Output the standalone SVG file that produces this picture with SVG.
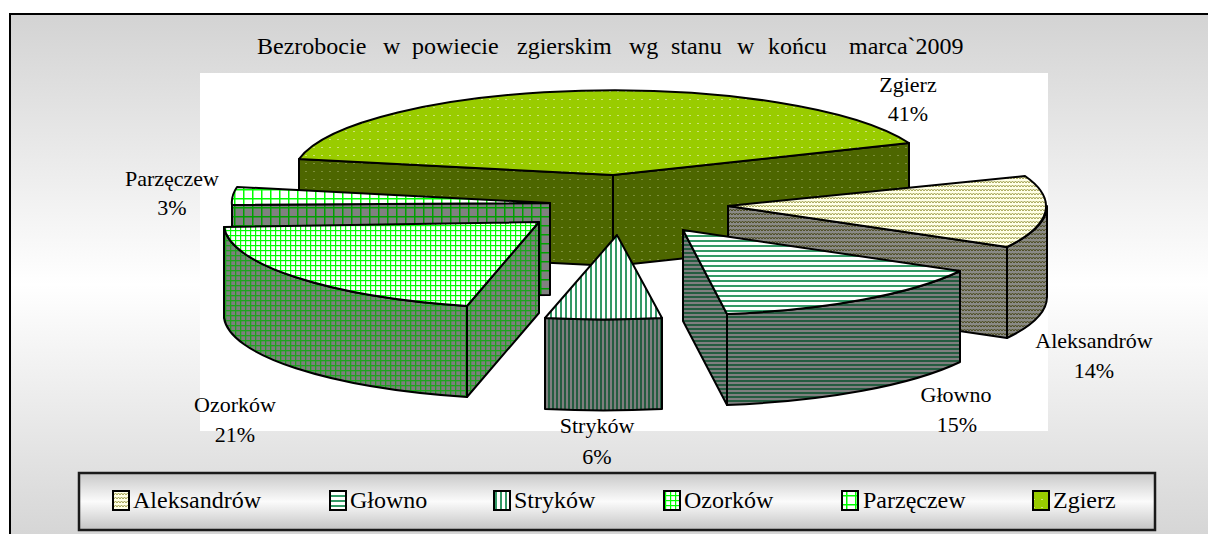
<svg xmlns="http://www.w3.org/2000/svg" width="1208" height="534" viewBox="0 0 1208 534" font-family="'Liberation Serif', 'Times New Roman', 'DejaVu Serif', serif">
<defs>
<linearGradient id="bg" x1="0" y1="14" x2="0" y2="534" gradientUnits="userSpaceOnUse">
<stop offset="0" stop-color="#d3d3d3"/><stop offset="0.52" stop-color="#ffffff"/><stop offset="1" stop-color="#d6d6d6"/>
</linearGradient>
<linearGradient id="lg" x1="0" y1="0" x2="0" y2="1">
<stop offset="0" stop-color="#c8c8c8"/><stop offset="0.5" stop-color="#fbfbfb"/><stop offset="1" stop-color="#c4c4c4"/>
</linearGradient>
<pattern id="zgT" width="8" height="8" patternUnits="userSpaceOnUse"><rect width="8" height="8" fill="#99cc00"/><rect x="1" y="3" width="2" height="1" fill="#cce27a"/></pattern>
<pattern id="zgS" width="8" height="8" patternUnits="userSpaceOnUse"><rect width="8" height="8" fill="#4d6600"/><rect x="1" y="3" width="2" height="1" fill="#7d8f3c"/></pattern>
<pattern id="alT" width="6" height="4" patternUnits="userSpaceOnUse"><rect width="6" height="4" fill="#ffffe6"/><polyline points="0,3 1.5,1 3,3 4.5,1 6,3" fill="none" stroke="#a3a352" stroke-width="1"/></pattern>
<pattern id="alS" width="6" height="4" patternUnits="userSpaceOnUse"><rect width="6" height="4" fill="#8a8a86"/><polyline points="0,3 1.5,1 3,3 4.5,1 6,3" fill="none" stroke="#4a4a1e" stroke-width="1"/></pattern>
<pattern id="glT" width="5" height="5" patternUnits="userSpaceOnUse"><rect width="5" height="5" fill="#ffffff"/><rect y="0" width="5" height="2" fill="#339966"/></pattern>
<pattern id="glS" width="4" height="4" patternUnits="userSpaceOnUse"><rect width="4" height="4" fill="#7f7f7f"/><rect y="0" width="4" height="2" fill="#255c40"/></pattern>
<pattern id="stT" width="5" height="5" patternUnits="userSpaceOnUse"><rect width="5" height="5" fill="#ffffff"/><rect x="0" width="2" height="5" fill="#339966"/></pattern>
<pattern id="stS" width="4" height="4" patternUnits="userSpaceOnUse"><rect width="4" height="4" fill="#7f7f7f"/><rect x="0" width="2" height="4" fill="#255c40"/></pattern>
<pattern id="ozT" width="5" height="5" patternUnits="userSpaceOnUse"><rect width="5" height="5" fill="#ffffff"/><rect width="5" height="1.2" fill="#00ff00"/><rect width="1.2" height="5" fill="#00ff00"/></pattern>
<pattern id="ozS" width="5" height="5" patternUnits="userSpaceOnUse"><rect width="5" height="5" fill="#7f7f7f"/><rect width="5" height="1.3" fill="#1fa31f"/><rect width="1.3" height="5" fill="#1fa31f"/></pattern>
<pattern id="paT" width="9" height="9" patternUnits="userSpaceOnUse"><rect width="9" height="9" fill="#ffffff"/><rect width="9" height="1.5" fill="#00ff00"/><rect width="1.5" height="9" fill="#00ff00"/></pattern>
<pattern id="paS" width="9" height="9" patternUnits="userSpaceOnUse"><rect width="9" height="9" fill="#808080"/><rect width="9" height="1.5" fill="#00a000"/><rect width="1.5" height="9" fill="#00a000"/></pattern>
<style>
.f{stroke:#000;stroke-width:2;stroke-linejoin:round}
text{font-family:'Liberation Serif','Times New Roman','DejaVu Serif',serif;fill:#000}
.lab{font-size:22px;text-anchor:middle}
.leg{font-size:24px}
.ic{stroke:#000;stroke-width:2}
</style>
</defs>
<rect x="10" y="14" width="1210" height="530" fill="url(#bg)" stroke="#000" stroke-width="2"/>
<text font-size="24" y="54"><tspan x="257">Bezrobocie</tspan><tspan x="383">w</tspan><tspan x="412">powiecie</tspan><tspan x="517">zgierskim</tspan><tspan x="629">wg</tspan><tspan x="671">stanu</tspan><tspan x="737">w</tspan><tspan x="768">końcu</tspan><tspan x="849">marca`2009</tspan></text>
<rect x="200" y="73" width="848" height="358" fill="#ffffff"/>
<g id="zgierz">
<path class="f" fill="url(#zgS)" d="M299,159 L613,175 L613,266 L299,250 Z"/>
<path class="f" fill="url(#zgS)" d="M613,175 L909,143 L909,234 L613,266 Z"/>
<path class="f" fill="url(#zgT)" d="M613,175 L299,159 A320,85 0 0,1 909,143 Z"/>
</g>
<g id="aleksandrow">
<path class="f" fill="url(#alS)" d="M728,206 L1007,247 L1007,338 L728,297 Z"/>
<path class="f" fill="url(#alS)" d="M1007,247 A320,85 0 0,0 1047,206 L1047,297 A320,85 0 0,1 1007,338 Z"/>
<path class="f" fill="url(#alT)" d="M728,206 L1025,176 A320,85 0 0,1 1007,247 Z"/>
</g>
<g id="parzeczew">
<path class="f" fill="url(#paS)" d="M550,203 L232,205 L232,296 L550,295 Z"/>
<path class="f" fill="url(#paT)" d="M550,203 L237,187 A320,85 0 0,0 232,205 Z"/>
</g>
<g id="glowno">
<path class="f" fill="url(#glS)" d="M683,230 L727,314 L727,405 L683,321 Z"/>
<path class="f" fill="url(#glS)" d="M727,314 A320,85 0 0,0 960,271 L960,362 A320,85 0 0,1 727,405 Z"/>
<path class="f" fill="url(#glT)" d="M683,230 L960,271 A320,85 0 0,1 727,314 Z"/>
</g>
<g id="strykow">
<path class="f" fill="url(#stS)" d="M545,318 A320,85 0 0,0 662,318 L662,409 A320,85 0 0,1 545,409 Z"/>
<path class="f" fill="url(#stT)" d="M617,235 L662,318 A320,85 0 0,1 545,318 Z"/>
</g>
<g id="ozorkow">
<path class="f" fill="url(#ozS)" d="M224,227 A320,85 0 0,0 467,306 L467,397 A320,85 0 0,1 224,318 Z"/>
<path class="f" fill="url(#ozS)" d="M539,222 L467,306 L467,397 L539,313 Z"/>
<path class="f" fill="url(#ozT)" d="M539,222 L224,227 A320,85 0 0,0 467,306 Z"/>
</g>
<g id="labels">
<text class="lab" x="908" y="92">Zgierz</text><text class="lab" x="908" y="121">41%</text>
<text class="lab" x="1094" y="348">Aleksandrów</text><text class="lab" x="1094" y="378">14%</text>
<text class="lab" x="956" y="402">Głowno</text><text class="lab" x="957" y="432">15%</text>
<text class="lab" x="597" y="433">Stryków</text><text class="lab" x="597" y="464">6%</text>
<text class="lab" x="235" y="412">Ozorków</text><text class="lab" x="235" y="442">21%</text>
<text class="lab" x="172" y="186">Parzęczew</text><text class="lab" x="172" y="215">3%</text>
</g>
<g id="legend">
<rect x="79" y="473" width="1076" height="57" fill="url(#lg)" stroke="#1a1a1a" stroke-width="2.5"/>
<rect class="ic" x="113" y="491" width="16" height="19" fill="url(#alT)"/><text class="leg" x="133" y="508">Aleksandrów</text>
<rect class="ic" x="330" y="491" width="16" height="19" fill="url(#glT)"/><text class="leg" x="350" y="508">Głowno</text>
<rect class="ic" x="494" y="491" width="16" height="19" fill="url(#stT)"/><text class="leg" x="514" y="508">Stryków</text>
<rect class="ic" x="664" y="491" width="16" height="19" fill="url(#ozT)"/><text class="leg" x="684" y="508">Ozorków</text>
<rect class="ic" x="842" y="491" width="16" height="19" fill="url(#paT)"/><text class="leg" x="863" y="508">Parzęczew</text>
<rect class="ic" x="1033" y="491" width="16" height="19" fill="url(#zgT)"/><text class="leg" x="1053" y="508">Zgierz</text>
</g>
</svg>
